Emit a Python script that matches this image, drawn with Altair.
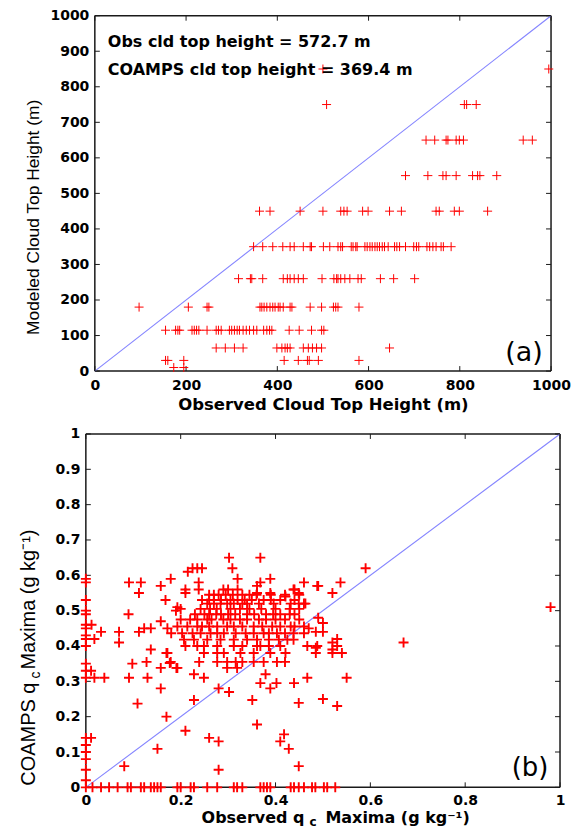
import altair as alt
import pandas as pd

# ---------------- Panel (a): cloud top height ----------------
# observed cloud-top heights (m) grouped by the modeled level (m) they fall on
a_obs_850 = [500, 995]
a_obs_750 = [508, 810, 815, 836]
a_obs_650 = [726, 745, 770, 774, 792, 799, 808, 939, 959]
a_obs_550 = [681, 730, 763, 770, 792, 828, 839, 844, 881]
a_obs_450 = [361, 384, 450, 500, 539, 546, 553, 587, 599, 646, 672, 748, 755, 788, 799, 861]
a_obs_350 = [348, 368, 390, 412, 428, 437, 457, 472, 475, 501, 515, 533, 539, 543, 562, 566,
             572, 575, 592, 597, 603, 608, 614, 619, 624, 630, 635, 643, 657, 662, 668, 681,
             699, 705, 710, 728, 734, 741, 748, 759, 764, 781]
a_obs_260 = [315, 341, 344, 368, 413, 422, 428, 437, 446, 457, 498, 524, 530, 533, 539, 548,
             559, 577, 584, 626, 655, 701]
a_obs_180 = [97, 205, 246, 250, 362, 366, 371, 377, 384, 390, 395, 402, 406, 413, 428, 432,
             472, 497, 523, 528, 533, 579]
a_obs_115 = [155, 177, 182, 186, 213, 218, 223, 228, 246, 266, 271, 277, 295, 300, 306, 312,
             317, 325, 332, 339, 348, 355, 370, 377, 383, 388, 426, 448, 475, 497, 502]
a_obs_65 = [266, 286, 306, 325, 399, 410, 417, 422, 428, 457, 468, 477, 486, 497, 646]
a_obs_30 = [155, 160, 195, 415, 446, 466, 470, 490, 579]
a_obs_10 = [173, 195]
a_levels = [850, 750, 650, 550, 450, 350, 260, 180, 115, 65, 30, 10]
a_rows = [a_obs_850, a_obs_750, a_obs_650, a_obs_550, a_obs_450, a_obs_350,
          a_obs_260, a_obs_180, a_obs_115, a_obs_65, a_obs_30, a_obs_10]
a_x_ticks = [0, 200, 400, 600, 800, 1000]
a_y_ticks = [0, 100, 200, 300, 400, 500, 600, 700, 800, 900, 1000]
a_domain = [0, 1000]
a_notes = ["Obs cld top height = 572.7 m", "COAMPS cld top height = 369.4 m"]

# ---------------- Panel (b): q_c maxima ----------------
b_left_mod = [0.59, 0.58, 0.53, 0.50, 0.49, 0.46, 0.45, 0.43, 0.42, 0.40, 0.35, 0.33, 0.31,
              0.14, 0.12, 0.10, 0.08, 0.05, 0.02, 0.0]
b_bottom_obs = [0.014, 0.032, 0.049, 0.067, 0.088, 0.095, 0.116, 0.123, 0.137, 0.144, 0.151,
                0.158, 0.193, 0.2, 0.221, 0.228, 0.256, 0.277, 0.312, 0.319, 0.33, 0.368,
                0.375, 0.382, 0.389, 0.432, 0.439, 0.449, 0.46, 0.477, 0.484, 0.502, 0.509, 0.526]
b_scatter_obs = [0.012, 0.018, 0.032, 0.011, 0.018, 0.039, 0.011, 0.07, 0.07, 0.09, 0.112, 0.123,
                 0.137, 0.158, 0.172, 0.137, 0.128, 0.098, 0.17, 0.158, 0.177, 0.191, 0.091, 0.13,
                 0.158, 0.109, 0.17, 0.151, 0.081, 0.21, 0.228, 0.228, 0.249, 0.26, 0.28, 0.28,
                 0.28, 0.302, 0.351, 0.361, 0.368, 0.379, 0.389, 0.402, 0.41, 0.418, 0.428, 0.449,
                 0.449, 0.439, 0.467, 0.98, 0.67, 0.55, 0.5, 0.53, 0.54, 0.52, 0.52, 0.485, 0.485,
                 0.53, 0.52, 0.53, 0.50, 0.485, 0.47, 0.49, 0.50, 0.59, 0.537, 0.52, 0.49, 0.46,
                 0.302, 0.368, 0.309, 0.32, 0.368, 0.389, 0.225, 0.235, 0.245, 0.215, 0.179, 0.158,
                 0.116, 0.091, 0.112, 0.21, 0.21, 0.238, 0.238, 0.168, 0.193, 0.19, 0.361, 0.361,
                 0.389, 0.421, 0.438, 0.449, 0.46, 0.488]
b_scatter_mod = [0.46, 0.42, 0.44, 0.33, 0.31, 0.31, 0.14, 0.44, 0.41, 0.49, 0.44, 0.45,
                 0.45, 0.47, 0.45, 0.39, 0.355, 0.35, 0.38, 0.338, 0.352, 0.338, 0.31, 0.31,
                 0.28, 0.237, 0.2, 0.109, 0.06, 0.16, 0.247, 0.32, 0.31, 0.14, 0.13, 0.05,
                 0.28, 0.27, 0.247, 0.178, 0.295, 0.32, 0.28, 0.295, 0.13, 0.15, 0.109, 0.06,
                 0.239, 0.295, 0.31, 0.51, 0.41, 0.31, 0.25, 0.23, 0.38, 0.38, 0.39, 0.38, 0.395,
                 0.42, 0.41, 0.40, 0.44, 0.44, 0.45, 0.48, 0.465, 0.62, 0.58, 0.55, 0.57, 0.58,
                 0.65, 0.65, 0.62, 0.59, 0.58, 0.59, 0.62, 0.62, 0.62, 0.61, 0.59, 0.57,
                 0.58, 0.58, 0.55, 0.56, 0.55, 0.58, 0.56, 0.53, 0.51, 0.50, 0.57, 0.55,
                 0.55, 0.54, 0.56, 0.55, 0.52, 0.57]
# dense cluster: rows of observed values at a given modeled value
b_row_levels = [0.56, 0.545, 0.53, 0.52, 0.505, 0.49, 0.475, 0.455, 0.436, 0.418, 0.40, 0.38, 0.355, 0.338]
b_row_obs = [
    [0.29, 0.30, 0.32, 0.44],
    [0.26, 0.27, 0.28, 0.295, 0.31, 0.33, 0.345, 0.36, 0.39, 0.42, 0.45],
    [0.245, 0.26, 0.27, 0.285, 0.305, 0.32, 0.335, 0.35, 0.375, 0.39, 0.41, 0.44],
    [0.256, 0.27, 0.284, 0.298, 0.312, 0.33, 0.34, 0.365, 0.396, 0.432, 0.449, 0.463],
    [0.2, 0.242, 0.262, 0.276, 0.305, 0.325, 0.345, 0.37, 0.4, 0.43, 0.45],
    [0.23, 0.25, 0.26, 0.275, 0.285, 0.3, 0.315, 0.34, 0.355, 0.38, 0.395, 0.41, 0.43, 0.44],
    [0.2, 0.22, 0.235, 0.256, 0.265, 0.29, 0.305, 0.325, 0.34, 0.365, 0.38, 0.4, 0.42, 0.45],
    [0.193, 0.214, 0.235, 0.245, 0.26, 0.277, 0.298, 0.312, 0.33, 0.354, 0.372, 0.393, 0.41,
     0.432, 0.44, 0.46],
    [0.18, 0.203, 0.225, 0.242, 0.263, 0.277, 0.291, 0.316, 0.337, 0.354, 0.375, 0.386, 0.403,
     0.42, 0.438, 0.46],
    [0.207, 0.228, 0.256, 0.284, 0.312, 0.34, 0.361, 0.386, 0.407, 0.425, 0.438],
    [0.21, 0.235, 0.249, 0.277, 0.312, 0.33, 0.361, 0.368, 0.386, 0.41, 0.467, 0.488],
    [0.172, 0.249, 0.277, 0.291, 0.326, 0.354, 0.389, 0.421],
    [0.179, 0.239, 0.277, 0.298, 0.316, 0.33, 0.354, 0.375, 0.403, 0.42],
    [0.193, 0.298, 0.319],
]
b_x_ticks = [0, 0.2, 0.4, 0.6, 0.8, 1]
b_y_ticks = [0, 0.1, 0.2, 0.3, 0.4, 0.5, 0.6, 0.7, 0.8, 0.9, 1]
b_domain = [0, 1]

# ---------------- tables ----------------
df_a = pd.DataFrame([{"obs": x, "mod": lvl} for lvl, row in zip(a_levels, a_rows) for x in row])
b_records = ([{"obs": 0.0, "mod": m} for m in b_left_mod]
             + [{"obs": o, "mod": 0.0} for o in b_bottom_obs]
             + [{"obs": o, "mod": m} for o, m in zip(b_scatter_obs, b_scatter_mod)]
             + [{"obs": o, "mod": lvl} for lvl, row in zip(b_row_levels, b_row_obs) for o in row])
df_b = pd.DataFrame(b_records)

PLUS = "M-1,0L1,0M0,-1L0,1"
RED = "#ff0000"
BLUE = "#8585ff"
FRAME = "#1a1a1a"
TICK_LEN = 5


def panel(df, dom, xticks, yticks, w, h, x_lead, fmt, pt_size, pt_width, xlab_pad):
    """x_lead: blank pixels left of the data area inside the view (panel alignment)."""
    xs = alt.Scale(domain=dom, range=[x_lead, w], nice=False, zero=False)
    ys = alt.Scale(domain=dom, nice=False, zero=False)
    xa = alt.Axis(values=xticks, format=fmt, labelPadding=xlab_pad, title=None,
                  domain=False, ticks=False, grid=False, labelFlush=False, labelOverlap=False)
    ya = alt.Axis(values=yticks, format=fmt, labelPadding=6, offset=-x_lead, title=None,
                  domain=False, ticks=False, grid=False, labelFlush=False, labelOverlap=False)

    layers = []
    # frame
    fv = pd.DataFrame({"x": dom})
    fh = pd.DataFrame({"y": dom, "x0": [dom[0]] * 2, "x1": [dom[1]] * 2})
    layers.append(alt.Chart(fv).mark_rule(color=FRAME, strokeWidth=1.5).encode(
        x=alt.X("x:Q", scale=xs, axis=xa), y=alt.value(0), y2=alt.value(h)))
    layers.append(alt.Chart(fh).mark_rule(color=FRAME, strokeWidth=1.5).encode(
        y=alt.Y("y:Q", scale=ys, axis=ya), x=alt.X("x0:Q", scale=xs, axis=xa), x2="x1:Q"))

    # diagonal 1:1 line
    dd = pd.DataFrame({"a": dom, "b": dom})
    layers.append(alt.Chart(dd).mark_line(color=BLUE, strokeWidth=1.1).encode(
        x=alt.X("a:Q", scale=xs, axis=xa), y=alt.Y("b:Q", scale=ys, axis=ya)))

    # inward ticks on all four sides
    xt = pd.DataFrame({"v": xticks})
    yt = pd.DataFrame({"v": yticks, "x0": [dom[0]] * len(yticks), "x1": [dom[1]] * len(yticks)})
    layers.append(alt.Chart(xt).mark_rule(color=FRAME, strokeWidth=1).encode(
        x=alt.X("v:Q", scale=xs, axis=xa), y=alt.value(h), y2=alt.value(h - TICK_LEN)))
    layers.append(alt.Chart(xt).mark_rule(color=FRAME, strokeWidth=1).encode(
        x=alt.X("v:Q", scale=xs, axis=xa), y=alt.value(0), y2=alt.value(TICK_LEN)))
    layers.append(alt.Chart(yt).mark_rule(color=FRAME, strokeWidth=1, x2Offset=TICK_LEN).encode(
        y=alt.Y("v:Q", scale=ys, axis=ya), x=alt.X("x0:Q", scale=xs, axis=xa), x2="x0:Q"))
    layers.append(alt.Chart(yt).mark_rule(color=FRAME, strokeWidth=1, x2Offset=-TICK_LEN).encode(
        y=alt.Y("v:Q", scale=ys, axis=ya), x=alt.X("x1:Q", scale=xs, axis=xa), x2="x1:Q"))

    # data
    layers.append(alt.Chart(df).mark_point(shape=PLUS, filled=False, color=RED, opacity=1,
                                           size=pt_size, strokeWidth=pt_width).encode(
        x=alt.X("obs:Q", scale=xs, axis=xa), y=alt.Y("mod:Q", scale=ys, axis=ya)))
    return layers


def label(text, x, y, size, weight="normal", font="DejaVu Sans", align="left",
          baseline="middle", angle=0):
    return alt.Chart(pd.DataFrame({"t": [text]})).mark_text(
        align=align, baseline=baseline, font=font, fontSize=size, fontWeight=weight,
        color="black", angle=angle).encode(text="t:N", x=alt.value(x), y=alt.value(y))


# panel (a): data area 457 px wide, placed 9 px right of panel (b)'s
LEAD_A = 9
WA, HA = 457 + LEAD_A, 356
WB, HB = 475, 354

layers_a = panel(df_a, a_domain, a_x_ticks, a_y_ticks, WA, HA, LEAD_A, "d", 81, 1.0, 7)
layers_a += [
    label(a_notes[0], LEAD_A + 13, 26, 16, "bold"),
    label(a_notes[1], LEAD_A + 13, 54, 16, "bold"),
    label("(a)", LEAD_A + 430, 338, 27, align="center"),
    label("Observed Cloud Top Height (m)", LEAD_A + 229, 390, 16.5, "bold", align="center"),
    label("Modeled Cloud Top Height (m)", LEAD_A - 61, 202, 17.4, font="Liberation Sans",
          align="center", angle=270),
]
panel_a = alt.layer(*layers_a).properties(width=WA, height=HA)

layers_b = panel(df_b, b_domain, b_x_ticks, b_y_ticks, WB, HB, 0, "~g", 100, 1.9, 6)
layers_b += [
    label("(b)", 445, 335, 26, align="center"),
    label("Observed q", 219, 389.5, 16, "bold", align="right", baseline="alphabetic"),
    label("c", 224, 393, 12, "bold", baseline="alphabetic"),
    label("Maxima (g kg\u207b\u00b9)", 240, 389.5, 16, "bold", baseline="alphabetic"),
    label("COAMPS q", -51, 249, 20, font="Liberation Sans", align="right",
          baseline="alphabetic", angle=270),
    label("c", -46, 245, 14, font="Liberation Sans", baseline="alphabetic", angle=270),
    label("Maxima (g kg\u207b\u00b9)", -51, 236, 20, font="Liberation Sans",
          baseline="alphabetic", angle=270),
]
panel_b = alt.layer(*layers_b).properties(width=WB, height=HB)

chart = alt.vconcat(panel_a, panel_b, spacing=12).properties(
    padding={"left": 18, "top": 7, "right": 0, "bottom": 0},
    background="white",
).configure_view(stroke="transparent").configure_axis(
    labelFont="DejaVu Sans", labelFontWeight="bold", labelFontSize=14, labelColor="black"
)

chart.save("out.html", embed_options={"renderer": "svg", "actions": False})
